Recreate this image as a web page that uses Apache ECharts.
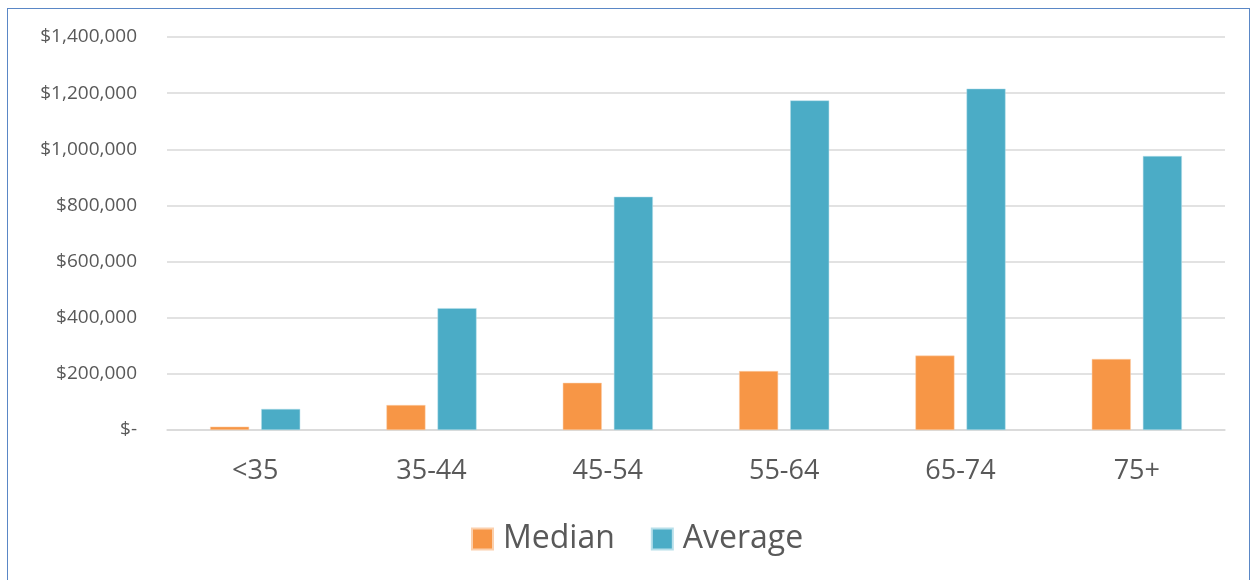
<!DOCTYPE html>
<html>
<head>
<meta charset="utf-8">
<script src="https://cdn.jsdelivr.net/npm/echarts@6/dist/echarts.min.js"></script>
<style>
  html, body { margin: 0; padding: 0; background: #fff; }
  #frame {
    position: absolute; left: 7px; top: 8px; width: 1243px; height: 580px;
    border: 1.5px solid #5a87c6; box-sizing: border-box; background: #fff;
  }
  #chart { position: absolute; left: 0; top: 0; width: 1252px; height: 580px; }
</style>
</head>
<body>
<div id="frame"></div>
<div id="chart"></div>
<script>
// Household net worth by age of head of household
const ageGroups = ['<35', '35-44', '45-54', '55-64', '65-74', '75+'];
const medianValues = [12000, 89000, 168000, 210000, 265000, 253000];
const averageValues = [75000, 434000, 831000, 1174000, 1216000, 976000];
const yTicks = { min: 0, max: 1400000, interval: 200000 };

function money(v) {
  if (v === 0) return '$-';
  return '$' + v.toLocaleString('en-US');
}

const font = '"Open Sans", "Liberation Sans", sans-serif';
const chart = echarts.init(document.getElementById('chart'), null, { renderer: 'canvas' });
chart.setOption({
  animation: false,
  backgroundColor: 'transparent',
  textStyle: { fontFamily: font },
  grid: { left: 167, right: 27, top: 37, height: 393 },
  legend: {
    data: ['Median', 'Average'],
    bottom: 20,
    left: 466,
    itemWidth: 21,
    itemHeight: 21,
    itemGap: 36,
    icon: 'rect',
    textStyle: { fontSize: 32, color: '#595959', fontFamily: font, padding: [0, 0, 0, 5] }
  },
  xAxis: {
    type: 'category',
    data: ageGroups,
    axisLine: { show: true, lineStyle: { color: '#d9d9d9', width: 1.5 } },
    axisTick: { show: false },
    axisLabel: { fontSize: 27, color: '#595959', margin: 28, fontFamily: font }
  },
  yAxis: {
    type: 'value',
    min: yTicks.min,
    max: yTicks.max,
    interval: yTicks.interval,
    axisLine: { show: false },
    axisTick: { show: false },
    splitLine: { lineStyle: { color: '#d9d9d9', width: 1.5 } },
    axisLabel: { formatter: money, fontSize: 19, color: '#595959', margin: 30, fontFamily: font }
  },
  series: [
    {
      name: 'Median', type: 'bar', data: medianValues,
      barWidth: 39, barGap: '31%',
      itemStyle: { color: '#f79646', borderColor: '#fbd0ad', borderWidth: 0.5 }
    },
    {
      name: 'Average', type: 'bar', data: averageValues,
      barWidth: 39, barGap: '31%',
      itemStyle: { color: '#4bacc6', borderColor: '#b7dfea', borderWidth: 0.5 }
    }
  ]
});
</script>
</body>
</html>
